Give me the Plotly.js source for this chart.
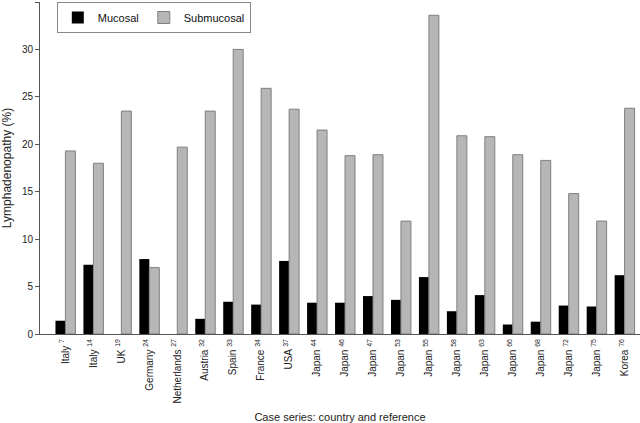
<!DOCTYPE html>
<html>
<head>
<meta charset="utf-8">
<script src="https://cdn.plot.ly/plotly-3.0.1.min.js"></script>
<style>html,body{margin:0;padding:0;background:#fff;}#chart{width:640px;height:423px;}</style>
</head>
<body>
<div id="chart"></div>
<script>
const countries = ["Italy","Italy","UK","Germany","Netherlands","Austria","Spain","France","USA","Japan","Japan","Japan","Japan","Japan","Japan","Japan","Japan","Japan","Japan","Japan","Korea"];
const refs = [7,14,19,24,27,32,33,34,37,44,46,47,53,55,58,63,66,68,72,75,76];
const mucosal = [1.4,7.3,0,7.9,0,1.6,3.4,3.1,7.7,3.3,3.3,4.0,3.6,6.0,2.4,4.1,1.0,1.3,3.0,2.9,6.2];
const submucosal = [19.3,18.0,23.5,7.0,19.7,23.5,30.0,25.9,23.7,21.5,18.8,18.9,11.9,33.6,20.9,20.8,18.9,18.3,14.8,11.9,23.8];
const yTicks = [0,5,10,15,20,25,30,35];

const labels = countries.map((c,i) => c + " <sup>" + refs[i] + "</sup>");

const data = [
  {type:"bar", name:"Mucosal", x:labels, y:mucosal,
   marker:{color:"#000000", line:{width:0}}},
  {type:"bar", name:"Submucosal", x:labels, y:submucosal,
   marker:{color:"#b5b7b4", line:{color:"#7f7f7f", width:1}}}
];

const layout = {
  width:640, height:423,
  margin:{l:40, r:0, t:2, b:89},
  paper_bgcolor:"#ffffff", plot_bgcolor:"#ffffff",
  font:{family:"Arial, 'Liberation Sans', sans-serif", size:10, color:"#222"},
  barmode:"group", bargap:0.286, bargroupgap:0,
  showlegend:true,
  legend:{x:0.028, y:1, xanchor:"left", yanchor:"top", orientation:"h",
    bordercolor:"#888", borderwidth:1, bgcolor:"#fff",
    font:{size:11, color:"#111"}},
  xaxis:{type:"category", range:[-0.91,20.55], tickangle:-90,
    showline:true, linecolor:"#555", linewidth:1, ticks:"", showgrid:false, zeroline:false,
    tickfont:{size:10, color:"#222"},
    title:{text:"Case series: country and reference", font:{size:11, color:"#222"}, standoff:10}},
  yaxis:{range:[0,35], tickvals:yTicks, ticktext:yTicks.map(String),
    showline:true, linecolor:"#555", linewidth:1, ticks:"outside", ticklen:4, tickcolor:"#555",
    showgrid:false, zeroline:false, tickfont:{size:10, color:"#222"},
    title:{text:"Lymphadenopathy (%)", font:{size:12, color:"#222"}, standoff:8}}
};

Plotly.newPlot("chart", data, layout, {displayModeBar:false, staticPlot:true});
</script>
</body>
</html>
